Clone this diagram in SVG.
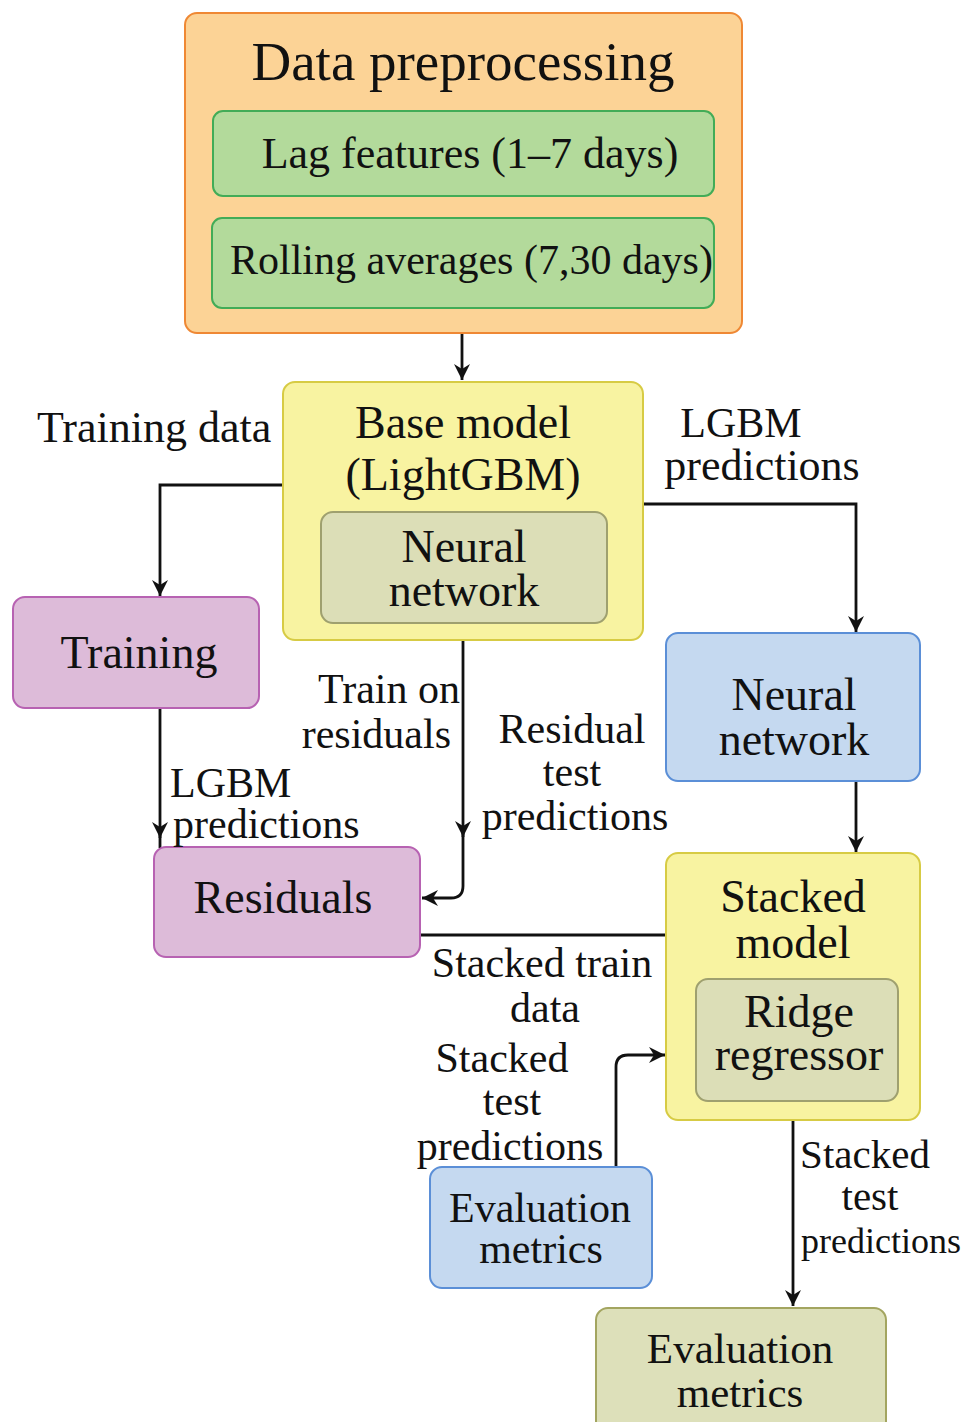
<svg xmlns="http://www.w3.org/2000/svg" width="965" height="1422" viewBox="0 0 965 1422">
<defs>
<marker id="arr" markerUnits="userSpaceOnUse" markerWidth="18" markerHeight="16" refX="16" refY="8" orient="auto">
<path d="M0,0 L16,8 L0,16 L5,8 z" fill="#111"/>
</marker>
<style>
text{font-family:"Liberation Serif","Times New Roman",serif;fill:#111;}
.t{font-size:46px;text-anchor:middle;}
.l{font-size:42px;}
.m{text-anchor:middle;}
.e{text-anchor:end;}
.orange{fill:#FCD396;stroke:#EF8834;stroke-width:2;}
.green{fill:#B3DA9B;stroke:#42AC57;stroke-width:2;}
.yellow{fill:#F8F3A1;stroke:#D7CB44;stroke-width:2;}
.olive{fill:#DCDEB7;stroke:#9FA06F;stroke-width:2;}
.pink{fill:#DDBBD9;stroke:#B762B2;stroke-width:2;}
.blue{fill:#C5D9F0;stroke:#5B8FD7;stroke-width:2;}
.evalg{fill:#DDE0BA;stroke:#A3A560;stroke-width:2;}
.c{fill:none;stroke:#111;stroke-width:2.8;}
</style>
</defs>

<g id="connectors">
<path class="c" d="M462,333 V380" marker-end="url(#arr)"/>
<path class="c" d="M283,485 H160 V596" marker-end="url(#arr)"/>
<path class="c" d="M160,708 V838" marker-end="url(#arr)"/>
<path class="c" d="M160,830 V848"/>
<path class="c" d="M463,623 V837" marker-end="url(#arr)"/>
<path class="c" d="M463,828 V886 Q463,898 451,898 H422" marker-end="url(#arr)"/>
<path class="c" d="M643,504 H856 V632" marker-end="url(#arr)"/>
<path class="c" d="M856,781 V852" marker-end="url(#arr)"/>
<path class="c" d="M420,935 H666"/>
<path class="c" d="M616,1166 V1067 Q616,1055 628,1055 H665" marker-end="url(#arr)"/>
<path class="c" d="M793,1101 V1306" marker-end="url(#arr)"/>
</g>

<g id="data-preprocessing">
<rect class="orange" x="185" y="13" width="557" height="320" rx="12"/>
<text x="463" y="80" style="font-size:55px;text-anchor:middle;">Data preprocessing</text>
</g>
<g id="lag-features">
<rect class="green" x="213" y="111" width="501" height="85" rx="10"/>
<text x="470" y="168" style="font-size:44px;text-anchor:middle;">Lag features (1–7 days)</text>
</g>
<g id="rolling-averages">
<rect class="green" x="212" y="218" width="502" height="90" rx="10"/>
<text x="230" y="274" style="font-size:42px;">Rolling averages (7,30 days)</text>
</g>

<g id="base-model">
<rect class="yellow" x="283" y="382" width="360" height="258" rx="12"/>
<text class="t" x="463" y="438">Base model</text>
<text class="t" x="463" y="490">(LightGBM)</text>
</g>
<g id="base-neural-network">
<rect class="olive" x="321" y="512" width="286" height="111" rx="12"/>
<text class="t" x="464" y="562">Neural</text>
<text class="t" x="464" y="606">network</text>
</g>

<g id="training">
<rect class="pink" x="13" y="597" width="246" height="111" rx="12"/>
<text class="t" x="139" y="668">Training</text>
</g>

<g id="residuals">
<rect class="pink" x="154" y="847" width="266" height="110" rx="12"/>
<text class="t" x="283" y="913">Residuals</text>
</g>

<g id="neural-network">
<rect class="blue" x="666" y="633" width="254" height="148" rx="12"/>
<text class="t" x="794" y="710">Neural</text>
<text class="t" x="794" y="755">network</text>
</g>

<g id="stacked-model">
<rect class="yellow" x="666" y="853" width="254" height="267" rx="12"/>
<text class="t" x="793" y="912">Stacked</text>
<text class="t" x="793" y="958">model</text>
</g>
<g id="ridge-regressor">
<rect class="olive" x="696" y="979" width="202" height="122" rx="12"/>
<text class="t" x="799" y="1027">Ridge</text>
<text class="t" x="799" y="1070">regressor</text>
</g>

<g id="evaluation-metrics-1">
<rect class="blue" x="430" y="1167" width="222" height="121" rx="12"/>
<text class="m" x="540" y="1222" style="font-size:42px;">Evaluation</text>
<text class="m" x="541" y="1263" style="font-size:42px;">metrics</text>
</g>

<g id="evaluation-metrics-2">
<rect class="evalg" x="596" y="1308" width="290" height="130" rx="12"/>
<text class="m" x="740" y="1363" style="font-size:43px;">Evaluation</text>
<text class="m" x="740" y="1407" style="font-size:43px;">metrics</text>
</g>

<g id="labels">
<text class="l" x="37" y="442" style="font-size:44px;">Training data</text>
<text class="l m" x="741" y="437">LGBM</text>
<text class="l m" x="762" y="480" style="font-size:44px;">predictions</text>
<text class="l e" x="460" y="703">Train on</text>
<text class="l e" x="451" y="748">residuals</text>
<text class="l m" x="572" y="743">Residual</text>
<text class="l m" x="572" y="786">test</text>
<text class="l m" x="575" y="830">predictions</text>
<text class="l" x="170" y="797">LGBM</text>
<text class="l" x="173" y="838">predictions</text>
<text class="l m" x="542" y="977">Stacked train</text>
<text class="l m" x="545" y="1022">data</text>
<text class="l m" x="502" y="1072">Stacked</text>
<text class="l m" x="512" y="1115">test</text>
<text class="l m" x="510" y="1160">predictions</text>
<text class="l m" x="865" y="1168" style="font-size:41px;">Stacked</text>
<text class="l m" x="870" y="1210" style="font-size:41px;">test</text>
<text class="l m" x="881" y="1253" style="font-size:36px;">predictions</text>
</g>
</svg>
